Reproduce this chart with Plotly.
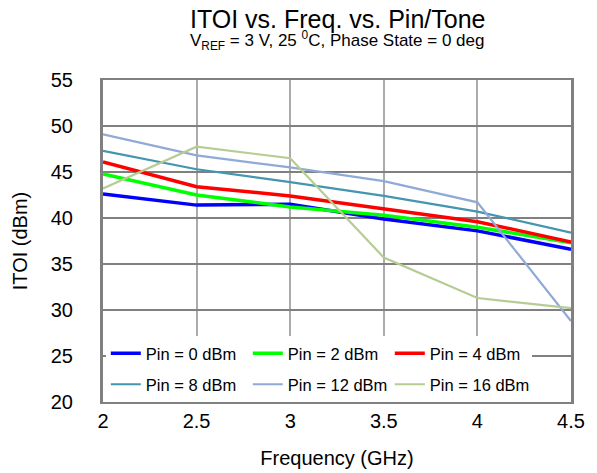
import plotly.graph_objects as go

freq = [2.0, 2.5, 3.0, 3.5, 4.0, 4.5]
freq_labels = ['2', '2.5', '3', '3.5', '4', '4.5']

pin0 = [42.6, 41.4, 41.5, 39.9, 38.6, 36.6]
pin2 = [44.8, 42.5, 41.2, 40.3, 39.0, 37.3]
pin4 = [46.1, 43.4, 42.4, 41.0, 39.6, 37.4]
pin8 = [47.3, 45.3, 43.9, 42.4, 40.7, 38.4]
pin12 = [49.1, 46.8, 45.5, 44.0, 41.7, 28.8]
pin16 = [43.2, 47.75, 46.5, 35.7, 31.3, 30.2]

names = ['Pin = 0 dBm', 'Pin = 2 dBm', 'Pin = 4 dBm',
         'Pin = 8 dBm', 'Pin = 12 dBm', 'Pin = 16 dBm']
series = [pin0, pin2, pin4, pin8, pin12, pin16]
colors = ['#0000FF', '#00FF00', '#FF0000', '#4396AE', '#8FAAD6', '#B5CC93']
widths = [3.5, 3.5, 3.5, 2.2, 2.2, 2.2]

fig = go.Figure()
for i, (name, ys, c, w) in enumerate(zip(names, series, colors, widths)):
    # two single-row legends, so the row spacing can be set
    fig.add_trace(go.Scatter(x=freq, y=ys, mode='lines', name=name,
                             legend='legend' if i < 3 else 'legend2',
                             line=dict(color=c, width=w)))

font = 'Liberation Sans, Arial, sans-serif'
leg = dict(orientation='h', xanchor='left', yanchor='bottom', x=0.006,
           bgcolor='white', entrywidth=97, entrywidthmode='pixels',
           font=dict(size=16.5))

# page body adds an 8px offset, so the figure is 8px smaller than the window
fig.update_layout(
    width=589, height=465,
    margin=dict(l=95, r=26, t=72, b=71),
    paper_bgcolor='white', plot_bgcolor='white',
    font=dict(family=font, size=20, color='black'),
    showlegend=True,
    legend=dict(leg, y=0.096),
    legend2=dict(leg, y=0.0),
    annotations=[
        dict(text='ITOI vs. Freq. vs. Pin/Tone', x=0.5, y=1, xref='paper', yref='paper',
             xanchor='center', yanchor='bottom', yshift=45, showarrow=False,
             font=dict(size=25)),
        dict(text='V<sub>REF</sub> = 3 V, 25 <sup>0</sup>C, Phase State = 0 deg',
             x=0.5, y=1, xref='paper', yref='paper', xanchor='center',
             yanchor='bottom', yshift=25, showarrow=False, font=dict(size=17)),
    ],
)

fig.update_xaxes(range=[2, 4.5], tickvals=freq, ticktext=freq_labels,
                 showgrid=True, gridcolor='#ABABAB', gridwidth=2,
                 showline=True, linecolor='#808080', linewidth=2, mirror=True,
                 ticks='inside', ticklen=5, tickcolor='#808080', ticklabelstandoff=0,
                 title=dict(text='Frequency (GHz)', standoff=20, font=dict(size=20)),
                 zeroline=False, automargin=False)
fig.update_yaxes(range=[20, 55], dtick=5,
                 showgrid=True, gridcolor='#808080', gridwidth=2,
                 showline=True, linecolor='#808080', linewidth=3, mirror=True,
                 ticks='', ticklabelstandoff=23,
                 title=dict(text='ITOI (dBm)', standoff=18, font=dict(size=20)),
                 zeroline=False, automargin=False)

fig.write_html('out.html')
